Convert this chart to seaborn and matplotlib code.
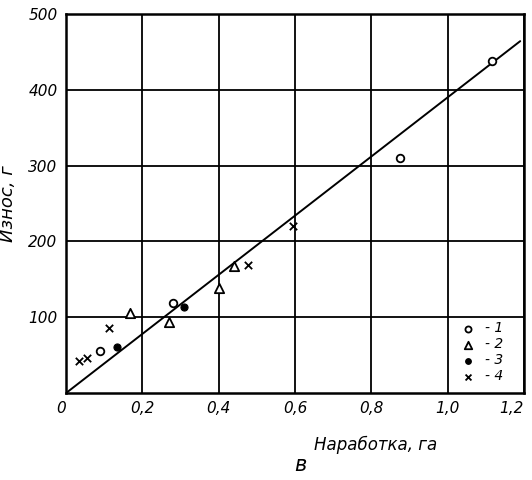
import matplotlib
matplotlib.use("Agg")
import matplotlib.pyplot as plt
import seaborn as sns
import pandas as pd
import numpy as np

# Measured wear (g) vs. operating time (ha) for four groups
s1_x = [0.09, 0.28, 0.875, 1.115]
s1_y = [55, 119, 310, 438]
s2_x = [0.167, 0.27, 0.40, 0.44]
s2_y = [106, 94, 138, 167]
s3_x = [0.133, 0.31]
s3_y = [61, 113]
s4_x = [0.034, 0.055, 0.113, 0.476, 0.596]
s4_y = [42, 46, 86, 169, 220]
series_labels = ["1", "2", "3", "4"]

# Regression line through the origin
fit_x = [0.0, 1.19]
fit_slope = 390

x_ticks = [0, 0.2, 0.4, 0.6, 0.8, 1.0, 1.2]
x_tick_labels = ["0", "0,2", "0,4", "0,6", "0,8", "1,0", "1,2"]
y_ticks = [100, 200, 300, 400, 500]
y_tick_labels = ["100", "200", "300", "400", "500"]

sns.set_theme(style="white")
plt.rcParams["font.family"] = ["DejaVu Sans"]
plt.rcParams["text.color"] = "black"
plt.rcParams["axes.labelcolor"] = "black"

fig = plt.figure(figsize=(5.32, 4.8), dpi=100)
ax = fig.add_axes([0.124, 0.181, 0.861, 0.790])

fit_df = pd.DataFrame({"x": fit_x, "y": [fit_slope * v for v in fit_x]})
sns.lineplot(data=fit_df, x="x", y="y", ax=ax, color="black", lw=1.4, zorder=3)

styles = [
    dict(marker="o", s=30, facecolors="white", edgecolors="black", linewidths=1.3),
    dict(marker="^", s=45, facecolors="white", edgecolors="black", linewidths=1.3),
    dict(marker="o", s=26, color="black", edgecolor="black", linewidth=0.8),
    dict(marker="x", s=28, color="black", linewidths=1.3),
]
for xs, ys, lab, st in zip([s1_x, s2_x, s3_x, s4_x], [s1_y, s2_y, s3_y, s4_y],
                           series_labels, styles):
    df = pd.DataFrame({"x": xs, "y": ys})
    sns.scatterplot(data=df, x="x", y="y", ax=ax, label="- " + lab, zorder=4, **st)

ax.set_xlim(0, 1.2)
ax.set_ylim(0, 500)
ax.set_xticks(x_ticks)
ax.set_xticklabels(x_tick_labels)
ax.set_yticks(y_ticks)
ax.set_yticklabels(y_tick_labels)
ax.grid(True, color="black", lw=1.3)
ax.set_axisbelow(True)
for sp in ax.spines.values():
    sp.set_color("black")
    sp.set_linewidth(1.8)
ax.tick_params(axis="both", length=0, pad=6, labelsize=11, colors="black")
for t in ax.get_xticklabels() + ax.get_yticklabels():
    t.set_fontstyle("italic")
ax.get_xticklabels()[-1].set_horizontalalignment("right")
ax.get_xticklabels()[0].set_horizontalalignment("right")

ax.set_xlabel("Наработка, га", fontsize=12, fontstyle="italic", color="black")
ax.set_ylabel("Износ, г", fontsize=13, fontstyle="italic", labelpad=8, color="black")
ax.xaxis.set_label_coords(0.675, -0.112)

fig.text(0.564, 0.032, "в", fontsize=15, fontstyle="italic", ha="center",
         va="center", color="black")

leg = ax.legend(loc="lower right", frameon=False, fontsize=10, handletextpad=0.2,
                labelspacing=0.15, borderaxespad=0.3, markerscale=0.8,
                bbox_to_anchor=(0.975, 0.0))
for t in leg.get_texts():
    t.set_fontstyle("italic")
    t.set_color("black")

fig.savefig("out.png", dpi=100, facecolor="white")
